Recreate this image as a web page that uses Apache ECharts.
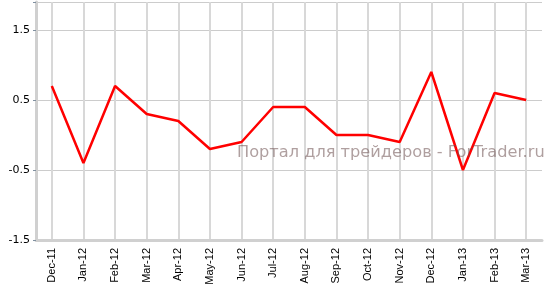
<!DOCTYPE html>
<html>
<head>
<meta charset="utf-8">
<script src="https://cdn.jsdelivr.net/npm/echarts@6/dist/echarts.min.js"></script>
<style>
html,body{margin:0;padding:0;background:#fff;}
#chart{width:553px;height:285px;}
</style>
</head>
<body>
<div id="chart"></div>
<script>
const categories = ["Dec-11","Jan-12","Feb-12","Mar-12","Apr-12","May-12","Jun-12","Jul-12","Aug-12","Sep-12","Oct-12","Nov-12","Dec-12","Jan-13","Feb-13","Mar-13"];
const values = [0.7,-0.4,0.7,0.3,0.2,-0.2,-0.1,0.4,0.4,0.0,0.0,-0.1,0.9,-0.5,0.6,0.5];
const yTicks = [-1.5,-0.5,0.5,1.5];
const watermark = "Портал для трейдеров - ForTrader.ru";

const chart = echarts.init(document.getElementById('chart'), null, {renderer:'canvas'});
chart.setOption({
  animation:false,
  backgroundColor:'#fff',
  grid:{left:36,right:11,top:2,bottom:45,containLabel:false,outerBoundsMode:'none'},
  graphic:[{
    type:'text', left:237, top:145, z:10,
    style:{text:watermark, font:'16.2px "DejaVu Sans", sans-serif', fill:'rgba(110,80,80,0.55)'}
  }],
  xAxis:{
    type:'category', data:categories, boundaryGap:true,
    axisLine:{onZero:false,lineStyle:{color:'#d0d0d0',width:3}},
    axisTick:{alignWithLabel:true,length:5,lineStyle:{color:'#d8d8d8',width:2}},
    axisLabel:{rotate:90,margin:8,fontSize:11,color:'#000',fontFamily:'"Liberation Sans", Arial, sans-serif'},
    splitLine:{show:true,alignWithLabel:true,lineStyle:{color:'#d8d8d8',width:2}}
  },
  yAxis:{
    type:'value', min:-1.5, max:1.9, interval:1,
    axisLine:{show:true,lineStyle:{color:'#d0d0d0',width:3}},
    axisTick:{show:true,length:3,lineStyle:{color:'#8090a0'}},
    axisLabel:{fontSize:11,color:'#000',margin:6,fontFamily:'"DejaVu Sans", Verdana, sans-serif',
      formatter:function(v){return yTicks.indexOf(v)>=0 ? String(v) : '';}},
    splitLine:{show:true,lineStyle:{color:'#cccccc',width:1}}
  },
  series:[{
    type:'line', data:values, symbol:'none',
    lineStyle:{color:'#ff0000',width:2.5}
  }]
});
</script>
</body>
</html>
